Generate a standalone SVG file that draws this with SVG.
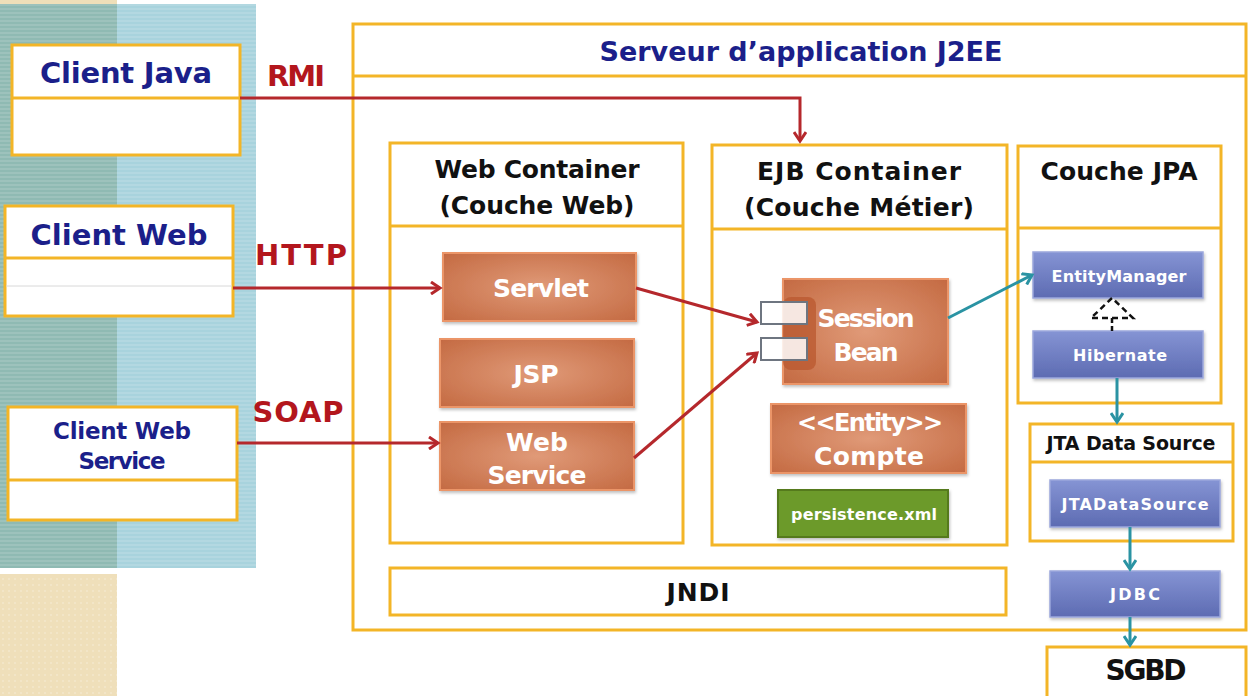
<svg xmlns="http://www.w3.org/2000/svg" width="1252" height="696" viewBox="0 0 1252 696">
<defs>
<style>
.box{fill:#fff;stroke:#f3b527;stroke-width:3}
.div{stroke:#f3b527;stroke-width:3}
.t{font-family:"DejaVu Sans","Liberation Sans",sans-serif;font-weight:bold;text-anchor:middle}
.blue{fill:#1b1f8a}
.red{fill:#b3161d}
.dark{fill:#111}
.wt{fill:#fff}
.orange{fill:url(#og);stroke:#eb9568;stroke-width:2}
.bl{fill:url(#bg);stroke:#9ba7dc;stroke-width:1.5}
.cr{fill:none;stroke:#b5282c;stroke-width:3}
.ct{fill:none;stroke:#2a93a3;stroke-width:3}
</style>
<radialGradient id="og" cx="0.5" cy="0.5" r="0.7">
<stop offset="0" stop-color="#e09a78"/>
<stop offset="1" stop-color="#c46a42"/>
</radialGradient>
<linearGradient id="bg" x1="0" y1="0" x2="0" y2="1">
<stop offset="0" stop-color="#8594d4"/>
<stop offset="1" stop-color="#5d6bb2"/>
</linearGradient>
<pattern id="stripes" width="4" height="4" patternUnits="userSpaceOnUse">
<rect width="4" height="2" fill="#ffffff" opacity="0.12"/>
</pattern>
<pattern id="dots" width="6" height="6" patternUnits="userSpaceOnUse">
<circle cx="3" cy="3" r="1" fill="#ffffff" opacity="0.25"/>
</pattern>
<marker id="ar" markerWidth="14" markerHeight="14" refX="11" refY="7" orient="auto" markerUnits="userSpaceOnUse">
<path d="M2,1 L11,7 L2,13" fill="none" stroke="#b5282c" stroke-width="3"/>
</marker>
<marker id="at" markerWidth="14" markerHeight="14" refX="11" refY="7" orient="auto" markerUnits="userSpaceOnUse">
<path d="M2,1 L11,7 L2,13" fill="none" stroke="#2a93a3" stroke-width="3"/>
</marker>
<filter id="sh" x="-10%" y="-10%" width="130%" height="140%">
<feDropShadow dx="1" dy="2" stdDeviation="1.5" flood-color="#000" flood-opacity="0.25"/>
</filter>
</defs>

<g id="background">
<rect x="0" y="0" width="1252" height="696" fill="#fff"/>
<rect x="0" y="0" width="117" height="4" fill="#efdfb9"/>
<rect x="0" y="4" width="117" height="564" fill="#8fbab3"/>
<rect x="117" y="4" width="139" height="564" fill="#a8d3dd"/>
<rect x="0" y="4" width="256" height="564" fill="url(#stripes)"/>
<rect x="0" y="574" width="117" height="122" fill="#efdfba"/>
<rect x="0" y="574" width="117" height="122" fill="url(#dots)"/>
</g>

<g id="client-java">
<rect class="box" x="12" y="45" width="228" height="110"/>
<line class="div" x1="12" y1="98" x2="240" y2="98"/>
<text class="t blue" x="126" y="83" font-size="29" textLength="172">Client  Java</text>
</g>

<g id="client-web">
<rect class="box" x="5" y="206" width="228" height="110"/>
<line class="div" x1="5" y1="258" x2="233" y2="258"/>
<line x1="6" y1="286" x2="232" y2="286" stroke="#d8d8d8" stroke-width="1"/>
<text class="t blue" x="119" y="245" font-size="29" textLength="177">Client  Web</text>
</g>

<g id="client-web-service">
<rect class="box" x="8" y="407" width="229" height="113"/>
<line class="div" x1="8" y1="480" x2="237" y2="480"/>
<text class="t blue" x="122" y="439" font-size="23" textLength="138">Client Web</text>
<text class="t blue" x="122" y="469" font-size="23" textLength="87">Service</text>
</g>

<g id="labels">
<text class="t red" x="296" y="86" font-size="29" textLength="58">RMI</text>
<text class="t red" x="301" y="265" font-size="29" textLength="92">HTTP</text>
<text class="t red" x="298" y="422" font-size="29" textLength="91">SOAP</text>
</g>

<g id="server">
<rect class="box" x="353" y="24" width="893" height="606"/>
<line class="div" x1="353" y1="76" x2="1246" y2="76"/>
<text class="t blue" x="801" y="61" font-size="27" textLength="403">Serveur d’application J2EE</text>
</g>

<g id="web-container">
<rect class="box" x="390" y="143" width="293" height="400"/>
<line class="div" x1="390" y1="226" x2="683" y2="226"/>
<text class="t dark" x="537" y="178" font-size="25" textLength="205">Web Container</text>
<text class="t dark" x="537" y="214" font-size="25" textLength="195">(Couche Web)</text>
</g>

<g id="ejb-container">
<rect class="box" x="712" y="145" width="295" height="400"/>
<line class="div" x1="712" y1="229" x2="1007" y2="229"/>
<text class="t dark" x="859" y="180" font-size="25" textLength="204">EJB Container</text>
<text class="t dark" x="859" y="216" font-size="25" textLength="230">(Couche Métier)</text>
</g>

<g id="couche-jpa">
<rect class="box" x="1018" y="146" width="203" height="257"/>
<line class="div" x1="1018" y1="228" x2="1221" y2="228"/>
<text class="t dark" x="1119" y="180" font-size="25" textLength="157">Couche JPA</text>
</g>

<g id="jta-data-source">
<rect class="box" x="1030" y="424" width="203" height="117"/>
<line class="div" x1="1030" y1="462" x2="1233" y2="462"/>
<text class="t dark" x="1131" y="450" font-size="19" textLength="169">JTA Data Source</text>
</g>

<g id="jndi">
<rect class="box" x="390" y="568" width="616" height="47"/>
<text class="t dark" x="698" y="601" font-size="25" textLength="63">JNDI</text>
</g>

<g id="sgbd">
<rect class="box" x="1047" y="647" width="199" height="60"/>
<text class="t dark" x="1146" y="680" font-size="28" textLength="81">SGBD</text>
</g>

<g id="servlet">
<rect class="orange" x="443" y="253" width="193" height="68" filter="url(#sh)"/>
<text class="t wt" x="541" y="297" font-size="25" textLength="96">Servlet</text>
</g>

<g id="jsp">
<rect class="orange" x="440" y="339" width="194" height="68" filter="url(#sh)"/>
<text class="t wt" x="536" y="383" font-size="25" textLength="45">JSP</text>
</g>

<g id="web-service">
<rect class="orange" x="440" y="422" width="194" height="68" filter="url(#sh)"/>
<text class="t wt" x="537" y="451" font-size="25" textLength="62">Web</text>
<text class="t wt" x="537" y="484" font-size="25" textLength="99">Service</text>
</g>

<g id="session-bean">
<rect class="orange" x="783" y="279" width="165" height="105" filter="url(#sh)"/>
<rect x="783" y="297" width="33" height="73" rx="8" fill="#b9582f" opacity="0.75"/>
<rect x="761" y="302" width="46" height="22" fill="#fff" fill-opacity="0.85" stroke="#6e7580" stroke-width="2"/>
<rect x="761" y="338" width="46" height="22" fill="#fff" fill-opacity="0.85" stroke="#6e7580" stroke-width="2"/>
<text class="t wt" x="866" y="327" font-size="25" textLength="97">Session</text>
<text class="t wt" x="866" y="361" font-size="25" textLength="65">Bean</text>
</g>

<g id="entity-compte">
<rect class="orange" x="771" y="404" width="195" height="69" filter="url(#sh)"/>
<text class="t wt" x="870" y="431" font-size="24" textLength="146">&lt;&lt;Entity&gt;&gt;</text>
<text class="t wt" x="869" y="465" font-size="25" textLength="110">Compte</text>
</g>

<g id="persistence-xml">
<rect x="778" y="490" width="170" height="47" fill="#6c9a2c" stroke="#547a1f" stroke-width="2" filter="url(#sh)"/>
<text class="t wt" x="864" y="520" font-size="16" textLength="146">persistence.xml</text>
</g>

<g id="entity-manager">
<rect class="bl" x="1033" y="252" width="170" height="46" filter="url(#sh)"/>
<text class="t wt" x="1119" y="282" font-size="16" textLength="135">EntityManager</text>
</g>

<g id="hibernate">
<rect class="bl" x="1033" y="331" width="170" height="47" filter="url(#sh)"/>
<text class="t wt" x="1120" y="361" font-size="16" textLength="94">Hibernate</text>
</g>

<g id="jtadatasource">
<rect class="bl" x="1050" y="480" width="170" height="47" filter="url(#sh)"/>
<text class="t wt" x="1135" y="510" font-size="16" textLength="147">JTADataSource</text>
</g>

<g id="jdbc">
<rect class="bl" x="1050" y="571" width="170" height="46" filter="url(#sh)"/>
<text class="t wt" x="1135" y="600" font-size="16" textLength="50">JDBC</text>
</g>

<g id="connectors">
<polyline class="cr" points="240,98 800,98 800,141" marker-end="url(#ar)"/>
<line class="cr" x1="233" y1="288" x2="440" y2="288" marker-end="url(#ar)"/>
<line class="cr" x1="237" y1="443" x2="438" y2="443" marker-end="url(#ar)"/>
<line class="cr" x1="636" y1="288" x2="757" y2="322" marker-end="url(#ar)"/>
<line class="cr" x1="634" y1="458" x2="757" y2="353" marker-end="url(#ar)"/>
<line class="ct" x1="948" y1="318" x2="1032" y2="275" marker-end="url(#at)"/>
<line x1="1112" y1="318" x2="1112" y2="331" stroke="#111" stroke-width="2.5" stroke-dasharray="5,3"/>
<polygon points="1112,298 1091,318 1133,318" fill="#fff" stroke="#111" stroke-width="2.5" stroke-dasharray="6,4"/>
<line class="ct" x1="1117" y1="378" x2="1117" y2="422" marker-end="url(#at)"/>
<line class="ct" x1="1130" y1="527" x2="1130" y2="569" marker-end="url(#at)"/>
<line class="ct" x1="1130" y1="617" x2="1130" y2="645" marker-end="url(#at)"/>
</g>
</svg>
